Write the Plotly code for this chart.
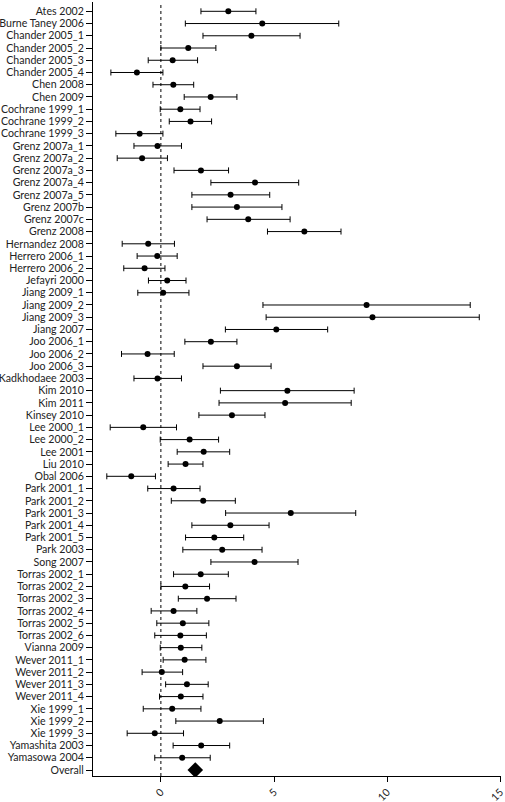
import plotly.graph_objects as go

studies = ["Ates 2002", "Burne Taney 2006", "Chander 2005_1", "Chander 2005_2", "Chander 2005_3",
           "Chander 2005_4", "Chen 2008", "Chen 2009", "Cochrane 1999_1", "Cochrane 1999_2",
           "Cochrane 1999_3", "Grenz 2007a_1", "Grenz 2007a_2", "Grenz 2007a_3", "Grenz 2007a_4",
           "Grenz 2007a_5", "Grenz 2007b", "Grenz 2007c", "Grenz 2008", "Hernandez 2008",
           "Herrero 2006_1", "Herrero 2006_2", "Jefayri 2000", "Jiang 2009_1", "Jiang 2009_2",
           "Jiang 2009_3", "Jiang 2007", "Joo 2006_1", "Joo 2006_2", "Joo 2006_3",
           "Kadkhodaee 2003", "Kim 2010", "Kim 2011", "Kinsey 2010", "Lee 2000_1",
           "Lee 2000_2", "Lee 2001", "Liu 2010", "Obal 2006", "Park 2001_1",
           "Park 2001_2", "Park 2001_3", "Park 2001_4", "Park 2001_5", "Park 2003",
           "Song 2007", "Torras 2002_1", "Torras 2002_2", "Torras 2002_3", "Torras 2002_4",
           "Torras 2002_5", "Torras 2002_6", "Vianna 2009", "Wever 2011_1", "Wever 2011_2",
           "Wever 2011_3", "Wever 2011_4", "Xie 1999_1", "Xie 1999_2", "Xie 1999_3",
           "Yamashita 2003", "Yamasowa 2004"]

effect = [2.98, 4.48, 4.00, 1.21, 0.52, -1.06, 0.55, 2.20, 0.86, 1.31,
          -0.94, -0.15, -0.83, 1.77, 4.16, 3.08, 3.36, 3.86, 6.34, -0.56,
          -0.16, -0.72, 0.28, 0.10, 9.09, 9.35, 5.10, 2.21, -0.59, 3.36,
          -0.15, 5.59, 5.49, 3.14, -0.78, 1.27, 1.89, 1.09, -1.31, 0.56,
          1.87, 5.74, 3.07, 2.36, 2.71, 4.14, 1.76, 1.08, 2.04, 0.56,
          0.97, 0.86, 0.88, 1.05, 0.04, 1.15, 0.88, 0.50, 2.60, -0.27,
          1.78, 0.94]

lower = [1.77, 1.08, 1.86, 0.00, -0.56, -2.21, -0.35, 1.03, -0.03, 0.37,
         -1.99, -1.19, -1.93, 0.58, 2.21, 1.37, 1.37, 2.04, 4.71, -1.71,
         -1.05, -1.64, -0.55, -1.02, 4.51, 4.65, 2.85, 1.06, -1.74, 1.86,
         -1.19, 2.63, 2.57, 1.68, -2.24, -0.03, 0.72, 0.32, -2.39, -0.58,
         0.46, 2.86, 1.37, 1.09, 0.97, 2.21, 0.56, 0.00, 0.77, -0.43,
         -0.18, -0.27, -0.03, 0.10, -0.83, 0.21, -0.06, -0.78, 0.66, -1.49,
         0.54, -0.27]

upper = [4.20, 7.86, 6.15, 2.43, 1.62, 0.09, 1.45, 3.36, 1.73, 2.24,
         0.09, 0.91, 0.29, 2.99, 6.09, 4.81, 5.35, 5.71, 7.96, 0.60,
         0.72, 0.18, 1.11, 1.24, 13.67, 14.07, 7.37, 3.36, 0.59, 4.87,
         0.91, 8.54, 8.41, 4.60, 0.69, 2.55, 3.04, 1.86, -0.24, 1.73,
         3.29, 8.61, 4.78, 3.66, 4.47, 6.06, 2.98, 2.15, 3.32, 1.59,
         2.12, 2.01, 1.81, 1.99, 0.96, 2.09, 1.86, 1.77, 4.53, 1.00,
         3.04, 2.18]

overall_label = "Overall"
overall_effect = 1.52

x_ticks = [0, 5, 10, 15]

labels = studies + [overall_label]
ypos = list(range(len(labels)))

fig = go.Figure()
fig.add_trace(go.Scatter(
    x=effect, y=ypos[:len(studies)], mode="markers",
    marker=dict(color="black", size=6, symbol="circle"),
    error_x=dict(type="data", symmetric=False,
                 array=[u - e for u, e in zip(upper, effect)],
                 arrayminus=[e - l for e, l in zip(effect, lower)],
                 color="black", thickness=1, width=3),
    showlegend=False, hoverinfo="x+y",
))
fig.add_trace(go.Scatter(
    x=[overall_effect], y=[ypos[-1]], mode="markers",
    marker=dict(color="black", size=12, symbol="diamond"),
    showlegend=False,
))

fig.add_shape(type="line", x0=0, x1=0, xref="x", y0=0, y1=1, yref="paper",
              line=dict(color="black", width=1, dash="3px,3px"))

fig.update_layout(
    width=505, height=802,
    margin=dict(l=93, r=4, t=2, b=26),
    plot_bgcolor="white", paper_bgcolor="white",
    font=dict(family="Lato, sans-serif", size=11, color="#222222"),
)
fig.update_xaxes(
    range=[-3, 15.03], tickvals=x_ticks, ticktext=[str(t) for t in x_ticks],
    tickangle=-45, ticks="outside", ticklen=5, tickcolor="black",
    tickfont=dict(size=10.5), ticklabeloverflow="allow",
    showline=True, linecolor="black", linewidth=1,
    showgrid=False, zeroline=False, automargin=False,
)
fig.update_yaxes(
    range=[len(labels) - 1 + 0.49, -0.76], tickvals=ypos, ticktext=labels,
    ticks="outside", ticklen=6, tickcolor="black",
    tickfont=dict(size=10.6),
    showline=True, linecolor="black", linewidth=1,
    showgrid=False, zeroline=False, automargin=False,
)

fig.write_html("out.html", config={"displayModeBar": False},
               post_script="document.body.style.margin='0';")
